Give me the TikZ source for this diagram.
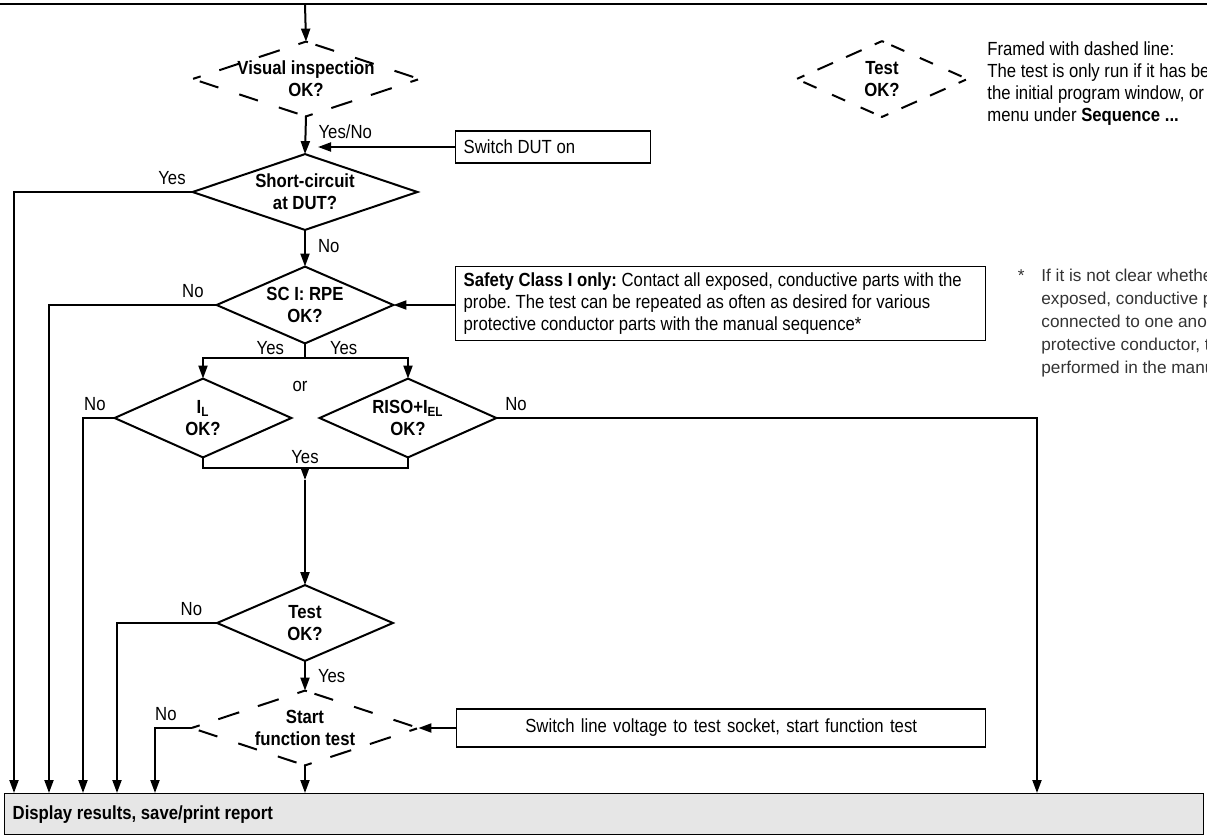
\documentclass[tikz,border=0pt]{standalone}
\usepackage{fontspec}
\setmainfont{Liberation Sans}[FakeStretch=0.88]
\newfontfamily\notefont{Liberation Sans}
\usetikzlibrary{positioning}
\usetikzlibrary{arrows.meta}
\usetikzlibrary{calc}
\definecolor{barfill}{HTML}{E6E6E6}
\definecolor{notegray}{HTML}{333333}
\newcommand\flowfont{\fontsize{9.5}{11}\selectfont}
% outline of a decision: diamond through the edge midpoints of its box
\newcommand\rhombus[2][]{\draw[#1] (#2.north) -- (#2.west) -- (#2.south) -- (#2.east) -- cycle;}
\tikzset{
  % A decision: invisible box, the diamond is drawn with \rhombus
  decision/.style 2 args={
    rectangle, inner sep=0pt, align=center, font=\flowfont\bfseries,
    minimum width=#1, minimum height=#2},
  outline/.style={line width=1pt, line join=miter},
  % Optional steps: dashed diamond, chevrons at the corners
  dashbig/.style={line width=1pt,
    dash pattern=on 4pt off 9.82pt on 11pt off 9.82pt on 11pt off 9.82pt on 4pt},
  dashsmall/.style={line width=1pt,
    dash pattern=on 4pt off 7.15pt on 8.5pt off 7.15pt on 8.5pt off 7.15pt on 4pt},
  % An action box
  action/.style={
    draw, line width=0.7pt, font=\flowfont, inner xsep=4pt, inner ysep=3pt,
    align=flush left, text width=#1},
  % Connectors
  flow/.style={line width=1pt, -{Triangle[length=6.5pt,width=4.5pt]}},
  link/.style={line width=1pt},
  lbl/.style={font=\flowfont, inner sep=1pt},
}
\frenchspacing
\begin{document}
\begin{tikzpicture}[x=0.5pt, y=-0.5pt]
\useasboundingbox (0,0) rectangle (1207,836);

% main sequence
\node[decision={113pt}{37pt}] (visual) at (306,79) {Visual inspection\\OK?};
\node[decision={112pt}{37.5pt}] (short) at (305,192) {Short-circuit\\at DUT?};
\node[decision={88pt}{38pt}] (scirpe) at (305,305) {SC I: RPE\\OK?};
\node[decision={88pt}{39pt}] (il) at (203,418) {I\textsubscript{L}\\OK?};
\node[decision={88pt}{39pt}] (riso) at (408,418) {RISO+I\textsubscript{EL}\\OK?};
\node[decision={87.5pt}{37.5pt}] (test) at (305,623) {Test\\OK?};
\node[decision={113pt}{37pt}] (start) at (305,728) {Start\\function test};

\rhombus[dashbig]{visual}
\rhombus[outline]{short}
\rhombus[outline]{scirpe}
\rhombus[outline]{il}
\rhombus[outline]{riso}
\rhombus[outline]{test}
\rhombus[dashbig]{start}

% side actions
\node[action=89.5pt, anchor=west, minimum height=16pt] (dut) at (455,147) {Switch DUT on};
\node[action=257pt, anchor=north west] (safety) at (455,266)
  {\textbf{Safety Class I only:} Contact all exposed, conductive parts with the\\
   probe. The test can be repeated as often as desired for various\\
   protective conductor parts with the manual sequence*};
\node[action=256.5pt, align=center, anchor=west, minimum height=19pt] (volt) at (456,728)
  {Switch line voltage to test socket, start function test};
\node[draw, line width=0.7pt, fill=barfill, anchor=north west, font=\flowfont\bfseries,
  inner xsep=4pt, text width=591.5pt, align=flush left, minimum height=20.5pt] (report) at (4,793)
  {Display results, save/print report};

% legend
\node[decision={85pt}{37.5pt}] (legend) at (882,79) {Test\\OK?};
\rhombus[dashsmall]{legend}
\node[anchor=north west, align=left, font=\flowfont, inner sep=0pt] (legendtext) at (987,41)
  {Framed with dashed line:\\
   The test is only run if it has been selected in\\
   the initial program window, or in the test\\
   menu under \textbf{Sequence ...}};

% footnote
\node[anchor=north west, align=left, inner sep=0pt, text=notegray,
  font=\notefont\fontsize{8.6}{11.5}\selectfont] (note) at (1041,269)
  {If it is not clear whether all\\
   exposed, conductive parts are\\
   connected to one another via the\\
   protective conductor, the test must be\\
   performed in the manual sequence.};
\node[anchor=north east, inner sep=0pt, text=notegray,
  font=\notefont\fontsize{8.6}{11.5}\selectfont] (star) at ($(note.north west)+(-8pt,0)$) {*};

% drop lines into the report bar
\coordinate (dropA) at (14,0);
\coordinate (dropB) at (49,0);
\coordinate (dropC) at (83,0);
\coordinate (dropD) at (117,0);
\coordinate (dropE) at (155,0);
\coordinate (dropF) at (1037,0);
\coordinate (entry) at (305,4);
\coordinate (dutin) at (318,0);

\draw[link] (0,4) -- (1207,4);
\draw[flow] (entry) -- (visual.north);
\draw[flow] (visual.south) -- (short.north) node[lbl, pos=0.4, right=5pt] {Yes/No};
\draw[flow] (dut.west) -- (dut.west -| dutin);
\draw[flow] (short.west) node[lbl, above left=2pt and 2pt] {Yes} -| (dropA |- report.north);
\draw[flow] (short.south) -- (scirpe.north) node[lbl, pos=0.45, right=5pt] {No};
\draw[flow] (safety.west |- scirpe.east) -- (scirpe.east);
\draw[flow] (scirpe.west) node[lbl, above left=2pt and 5pt] {No} -| (dropB |- report.north);

% both branches after RPE
\coordinate (fork) at (305,358);
\draw[link] (scirpe.south) -- (fork)
  node[lbl, pos=0.3, left=9pt] {Yes} node[lbl, pos=0.3, right=11pt] {Yes};
\draw[flow] (fork) -| (il.north);
\draw[flow] (fork) -| (riso.north);
\node[lbl] (or) at (300,386) {or};
\draw[flow] (il.west) node[lbl, above left=2pt and 3pt] {No} -| (dropC |- report.north);
\draw[flow] (riso.east) node[lbl, above right=2pt and 3pt] {No} -| (dropF |- report.north);

\coordinate (join) at (305,468);
\coordinate (joinstub) at (305,480);
\draw[link] (il.south) |- (join) -| (riso.south);
\node[lbl, above=1pt] at (join) {Yes};
\draw[flow] (join) -- (joinstub);
\draw[flow] (joinstub) -- (test.north);

\draw[flow] (test.west) node[lbl, above left=2pt and 6pt] {No} -| (dropD |- report.north);
\draw[flow] (test.south) -- (start.north) node[lbl, midway, right=5pt] {Yes};
\draw[flow] (volt.west |- start.east) -- (start.east);
\draw[flow] (start.west) node[lbl, above left=2pt and 6pt] {No} -| (dropE |- report.north);
\draw[flow] (start.south) -- (start.south |- report.north);

\end{tikzpicture}
\end{document}
